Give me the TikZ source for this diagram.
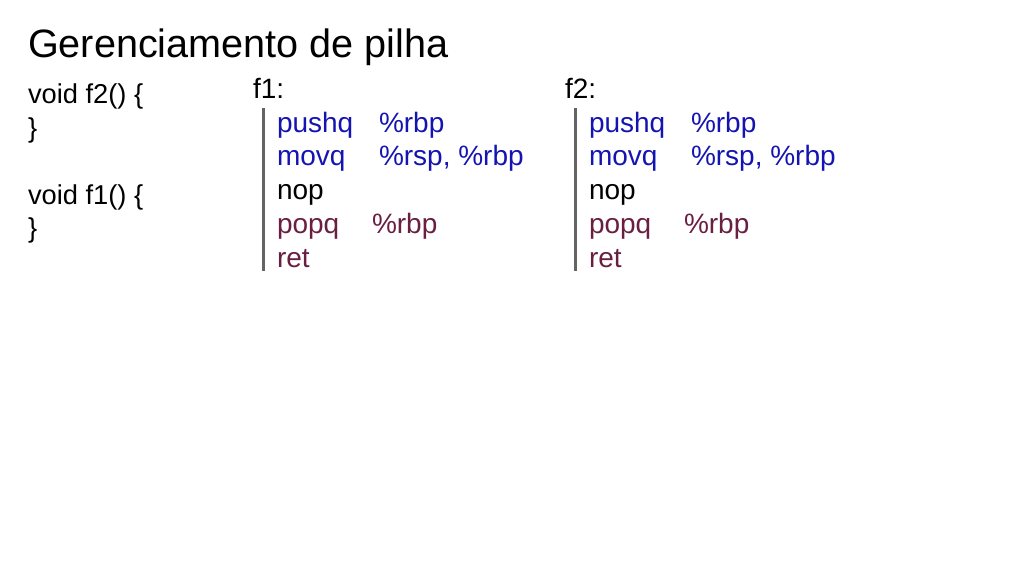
\documentclass[tikz,border=0pt]{standalone}
\usepackage{fontspec}
\setmainfont{Liberation Sans}
\definecolor{asmblue}{RGB}{20,20,178}
\definecolor{asmred}{RGB}{106,30,66}
\definecolor{bargray}{RGB}{100,100,100}
\begin{document}
\begin{tikzpicture}[x=1pt,y=-1pt,
  txt/.style={anchor=base west,inner sep=0pt,outer sep=0pt,font=\fontsize{27.3}{27.3}\selectfont},
  asm/.style={anchor=base west,inner sep=0pt,outer sep=0pt,font=\fontsize{28}{28}\selectfont},
  ttl/.style={anchor=base west,inner sep=0pt,outer sep=0pt,font=\fontsize{39.6}{39.6}\selectfont},
  bl/.style={asm,text=asmblue},
  rd/.style={asm,text=asmred},
  bar/.style={draw=bargray,line width=3pt}]
\useasboundingbox[fill=white] (0,0) rectangle (1024,576);
\node[ttl] (title) at (28,57.5) {Gerenciamento de pilha};
% C code
\node[txt] (c1) at (28,103.5) {void f2() \{};
\node[txt] (c2) at (28,137) {\}};
\node[txt] (c3) at (28,204) {void f1() \{};
\node[txt] (c4) at (28,237.5) {\}};
% f1 block
\node[asm] (f1) at (253,98.5) {f1:};
\coordinate (f1top) at (263,108);
\coordinate (f1bot) at (263,271);
\draw[bar] (f1top) -- (f1bot);
\node[bl] (a1) at (277,132) {pushq};
\node[bl] (a1o) at (379,132) {\%rbp};
\node[bl] (a2) at (277,165.8) {movq};
\node[bl] (a2o) at (379,165.8) {\%rsp, \%rbp};
\node[asm] (a3) at (277,199.5) {nop};
\node[rd] (a4) at (277,233.3) {popq};
\node[rd] (a4o) at (372,233.3) {\%rbp};
\node[rd] (a5) at (277,267) {ret};
% f2 block
\node[asm] (f2) at (565,98.5) {f2:};
\coordinate (f2top) at (575,108);
\coordinate (f2bot) at (575,271);
\draw[bar] (f2top) -- (f2bot);
\node[bl] (b1) at (589,132) {pushq};
\node[bl] (b1o) at (691,132) {\%rbp};
\node[bl] (b2) at (589,165.8) {movq};
\node[bl] (b2o) at (691,165.8) {\%rsp, \%rbp};
\node[asm] (b3) at (589,199.5) {nop};
\node[rd] (b4) at (589,233.3) {popq};
\node[rd] (b4o) at (684,233.3) {\%rbp};
\node[rd] (b5) at (589,267) {ret};
\end{tikzpicture}
\end{document}
